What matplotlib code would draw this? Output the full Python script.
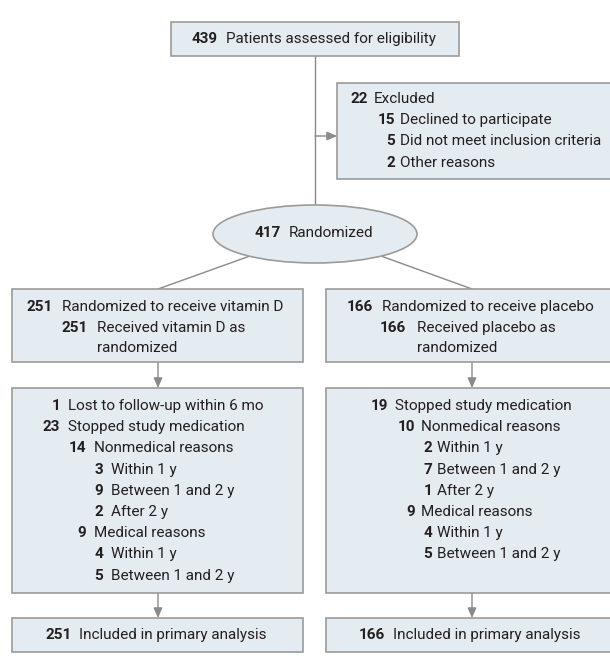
import matplotlib
matplotlib.use("Agg")
from matplotlib import pyplot as plt
from matplotlib.patches import Rectangle, Ellipse

# flow counts and labels
assessed_n = 439
assessed_label = "Patients assessed for eligibility"

excluded_n = [22, 15, 5, 2]
excluded_labels = ["Excluded", "Declined to participate",
                   "Did not meet inclusion criteria", "Other reasons"]
excluded_levels = [0, 1, 1, 1]

randomized_n = 417
randomized_label = "Randomized"

vitd_alloc_n = [251, 251]
vitd_alloc_labels = ["Randomized to receive vitamin D", "Received vitamin D as\nrandomized"]
placebo_alloc_n = [166, 166]
placebo_alloc_labels = ["Randomized to receive placebo", "Received placebo as\nrandomized"]
alloc_levels = [0, 1]

vitd_follow_n = [1, 23, 14, 3, 9, 2, 9, 4, 5]
vitd_follow_labels = ["Lost to follow-up within 6 mo", "Stopped study medication",
                      "Nonmedical reasons", "Within 1 y", "Between 1 and 2 y", "After 2 y",
                      "Medical reasons", "Within 1 y", "Between 1 and 2 y"]
vitd_follow_levels = [0, 0, 1, 2, 2, 2, 1, 2, 2]

placebo_follow_n = [19, 10, 2, 7, 1, 9, 4, 5]
placebo_follow_labels = ["Stopped study medication", "Nonmedical reasons", "Within 1 y",
                         "Between 1 and 2 y", "After 2 y", "Medical reasons",
                         "Within 1 y", "Between 1 and 2 y"]
placebo_follow_levels = [0, 1, 2, 2, 2, 1, 2, 2]

analysed_n = [251, 166]
analysed_label = "Included in primary analysis"

FILL = "#e5ecf1"
EDGE = "#9b9b9b"
LINE = "#8a8a8a"
TXT = "#231f20"
FONT = ["Roboto", "DejaVu Sans"]
FS = 11
STEP = 21.2

fig = plt.figure(figsize=(6.1, 6.7), dpi=100)
ax = fig.add_axes([0, 0, 1, 1])
ax.set_xlim(0, 610)
ax.set_ylim(670, 0)
ax.axis("off")


def box(x0, y0, x1, y1):
    ax.add_patch(Rectangle((x0, y0), x1 - x0, y1 - y0, facecolor=FILL,
                           edgecolor=EDGE, linewidth=1.2, zorder=2))


def entry(num, label, num_right, label_left, y):
    ax.text(num_right, y, str(num), ha="right", va="center", fontsize=FS,
            fontweight="bold", color=TXT, family=FONT, zorder=3)
    for k, part in enumerate(label.split("\n")):
        ax.text(label_left, y + k * (STEP - 1.5), part, ha="left", va="center",
                fontsize=FS, color=TXT, family=FONT, zorder=3)


def block(nums, labels, levels, num_rights, label_lefts, y0):
    y = y0
    for n, lab, lv in zip(nums, labels, levels):
        entry(n, lab, num_rights[lv], label_lefts[lv], y)
        y += STEP * (lab.count("\n") + 1) - 1.5 * lab.count("\n")


def arrow(x0, y0, x1, y1):
    ax.annotate("", xy=(x1, y1), xytext=(x0, y0),
                arrowprops=dict(arrowstyle="-|>,head_length=0.5,head_width=0.22",
                                color=LINE, lw=1.0, shrinkA=0, shrinkB=0,
                                mutation_scale=12), zorder=1)


def line(x0, y0, x1, y1):
    ax.plot([x0, x1], [y0, y1], color=LINE, lw=1.0, zorder=1)


# connectors
line(315, 56, 315, 206)
arrow(315, 136, 337, 136)
line(250, 256, 158, 289)
line(381, 256, 472, 289)
arrow(158, 362, 158, 388)
arrow(472, 362, 472, 388)
arrow(158, 593, 158, 618)
arrow(472, 593, 472, 618)

# enrollment
box(171, 22, 459, 56)
entry(assessed_n, assessed_label, 218, 226, 39)

box(337, 83, 616, 179)
block(excluded_n, excluded_labels, excluded_levels, [368, 395], [374, 400], 99)

ax.add_patch(Ellipse((315, 234), 204, 58, facecolor=FILL, edgecolor=EDGE,
                     linewidth=1.2, zorder=2))
entry(randomized_n, randomized_label, 281, 289, 233)

# allocation
box(12, 289, 303, 362)
block(vitd_alloc_n, vitd_alloc_labels, alloc_levels, [53, 88], [62, 97], 307)
box(326, 289, 616, 362)
block(placebo_alloc_n, placebo_alloc_labels, alloc_levels, [373, 406], [382, 417], 307)

# follow-up
box(12, 388, 303, 593)
block(vitd_follow_n, vitd_follow_labels, vitd_follow_levels, [60, 86, 103], [68, 94, 111], 406)
box(326, 388, 616, 593)
block(placebo_follow_n, placebo_follow_labels, placebo_follow_levels, [388, 415, 432], [395, 421, 437], 406)

# analysis
box(12, 618, 303, 652)
entry(analysed_n[0], analysed_label, 72, 79, 635)
box(326, 618, 616, 652)
entry(analysed_n[1], analysed_label, 385, 393, 635)

fig.savefig("out.png", dpi=100)
